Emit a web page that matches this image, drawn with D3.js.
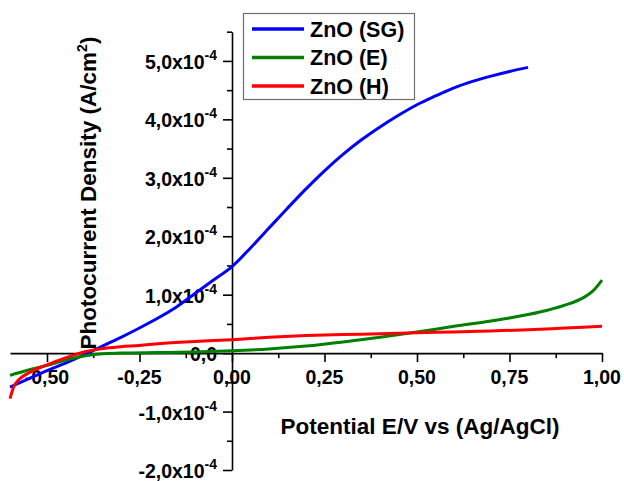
<!DOCTYPE html>
<html>
<head>
<meta charset="utf-8">
<script src="https://cdn.jsdelivr.net/npm/d3@7"></script>
<style>
  body { margin: 0; background: #fff; }
  svg text { font-family: "Liberation Sans", Arial, sans-serif; font-weight: bold; }
</style>
</head>
<body>
<svg width="624" height="481"></svg>
<script>
// values in units of 1e-4 A/cm2
const sgV = [-0.60, -0.55, -0.50, -0.45, -0.40, -0.35, -0.30, -0.25, -0.20, -0.15, -0.10, -0.05, 0.00, 0.05, 0.10, 0.15, 0.20, 0.25, 0.30, 0.35, 0.40, 0.45, 0.50, 0.55, 0.60, 0.65, 0.70, 0.75, 0.80];
const sgJ = [-0.58, -0.44, -0.30, -0.17, -0.03, 0.12, 0.27, 0.43, 0.60, 0.79, 1.02, 1.25, 1.48, 1.80, 2.14, 2.48, 2.81, 3.12, 3.40, 3.65, 3.87, 4.07, 4.25, 4.40, 4.54, 4.65, 4.74, 4.82, 4.89];

const eV = [-0.60, -0.55, -0.50, -0.45, -0.40, -0.35, -0.30, -0.20, -0.10, 0.00, 0.10, 0.20, 0.30, 0.40, 0.50, 0.60, 0.70, 0.75, 0.80, 0.85, 0.90, 0.95, 0.975, 1.00];
const eJ = [-0.38, -0.29, -0.21, -0.12, -0.05, -0.01, 0.00, 0.01, 0.02, 0.04, 0.07, 0.12, 0.19, 0.27, 0.36, 0.46, 0.55, 0.60, 0.66, 0.73, 0.82, 0.95, 1.06, 1.25];

const hV = [-0.60, -0.59, -0.58, -0.57, -0.55, -0.50, -0.45, -0.40, -0.35, -0.30, -0.25, -0.20, -0.10, 0.00, 0.10, 0.20, 0.30, 0.40, 0.50, 0.60, 0.70, 0.80, 0.90, 1.00];
const hJ = [-0.78, -0.58, -0.48, -0.42, -0.34, -0.20, -0.08, 0.02, 0.08, 0.11, 0.13, 0.16, 0.20, 0.23, 0.27, 0.30, 0.32, 0.33, 0.35, 0.36, 0.38, 0.40, 0.43, 0.46];

const seriesNames = ["ZnO (SG)", "ZnO (E)", "ZnO (H)"];
const seriesColors = ["#0000ff", "#008000", "#ff0000"];

const xMajor = [-0.50, -0.25, 0.00, 0.25, 0.50, 0.75, 1.00];
const xMinor = [-0.375, -0.125, 0.125, 0.375, 0.625, 0.875];
const yMajor = [-2, -1, 0, 1, 2, 3, 4, 5];
const yMinor = [-1.5, -0.5, 0.5, 1.5, 2.5, 3.5, 4.5, 5.5];

const svg = d3.select("svg");

const x = d3.scaleLinear().domain([-0.6, 1.0]).range([10, 602]);
const y = d3.scaleLinear().domain([-2, 5.5]).range([470, 31.7]);

const comma = v => v.toFixed(2).replace(".", ",");

// x axis through zero
const xAxisG = svg.append("g").attr("transform", `translate(0,${y(0)})`);
xAxisG.call(d3.axisBottom(x).tickValues(xMajor).tickSize(9).tickSizeOuter(0).tickFormat(""));
xAxisG.append("g").call(d3.axisBottom(x).tickValues(xMinor).tickSize(5).tickSizeOuter(0).tickFormat(""))
    .select(".domain").remove();

// y axis at zero
const yAxisG = svg.append("g").attr("transform", `translate(${x(0)},0)`);
yAxisG.call(d3.axisLeft(y).tickValues(yMajor).tickSize(9).tickSizeOuter(0).tickFormat(""));
yAxisG.append("g").call(d3.axisLeft(y).tickValues(yMinor).tickSize(5).tickSizeOuter(0).tickFormat(""))
    .select(".domain").remove();

svg.selectAll(".domain, .tick line").attr("stroke", "#000").attr("stroke-width", 1.6);

// x tick labels
svg.append("g").selectAll("text")
    .data(xMajor)
    .enter()
    .append("text")
    .attr("x", d => x(d))
    .attr("y", 384)
    .attr("text-anchor", "middle")
    .attr("font-size", 19.5)
    .text(d => comma(d));

// y tick labels with superscript exponent
const yLab = svg.append("g").selectAll("text")
    .data(yMajor)
    .enter()
    .append("text")
    .attr("x", 217)
    .attr("y", d => y(d) + 8)
    .attr("text-anchor", "end")
    .attr("font-size", 19.5);

yLab.each(function(d) {
    const t = d3.select(this);
    if (d === 0) {
        t.text("0,0");
        return;
    }
    t.append("tspan").text(d.toFixed(1).replace(".", ",") + "x10");
    t.append("tspan").attr("dy", -9).attr("font-size", 14).text("-4");
});

// axis titles
svg.append("text")
    .attr("x", 420)
    .attr("y", 434)
    .attr("text-anchor", "middle")
    .attr("font-size", 22.5)
    .text("Potential E/V vs (Ag/AgCl)");

const yTitle = svg.append("text")
    .attr("transform", "translate(96,193) rotate(-90)")
    .attr("text-anchor", "middle")
    .attr("font-size", 22.5);
yTitle.append("tspan").text("Photocurrent Density (A/cm");
yTitle.append("tspan").attr("dy", -9).attr("font-size", 14).text("2");
yTitle.append("tspan").attr("dy", 9).text(")");

// curves
const line = d3.line()
    .x(d => x(d[0]))
    .y(d => y(d[1]))
    .curve(d3.curveMonotoneX);

const series = [
    d3.zip(sgV, sgJ),
    d3.zip(eV, eJ),
    d3.zip(hV, hJ)
];

svg.append("g").selectAll("path")
    .data(series)
    .enter()
    .append("path")
    .attr("d", line)
    .attr("fill", "none")
    .attr("stroke", (d, i) => seriesColors[i])
    .attr("stroke-width", 3);

// legend
const legend = svg.append("g");
legend.append("rect")
    .attr("x", 243.5).attr("y", 13.5)
    .attr("width", 171).attr("height", 86)
    .attr("fill", "#fff")
    .attr("stroke", "#6e6e6e")
    .attr("stroke-width", 1.2);

const rows = legend.selectAll("g.row")
    .data(seriesNames)
    .enter()
    .append("g")
    .attr("transform", (d, i) => `translate(0,${29 + i * 28.5})`);

rows.append("line")
    .attr("x1", 252).attr("x2", 304)
    .attr("stroke", (d, i) => seriesColors[i])
    .attr("stroke-width", 3.5);

rows.append("text")
    .attr("x", 310)
    .attr("y", 7.5)
    .attr("font-size", 21.5)
    .text(d => d);
</script>
</body>
</html>
